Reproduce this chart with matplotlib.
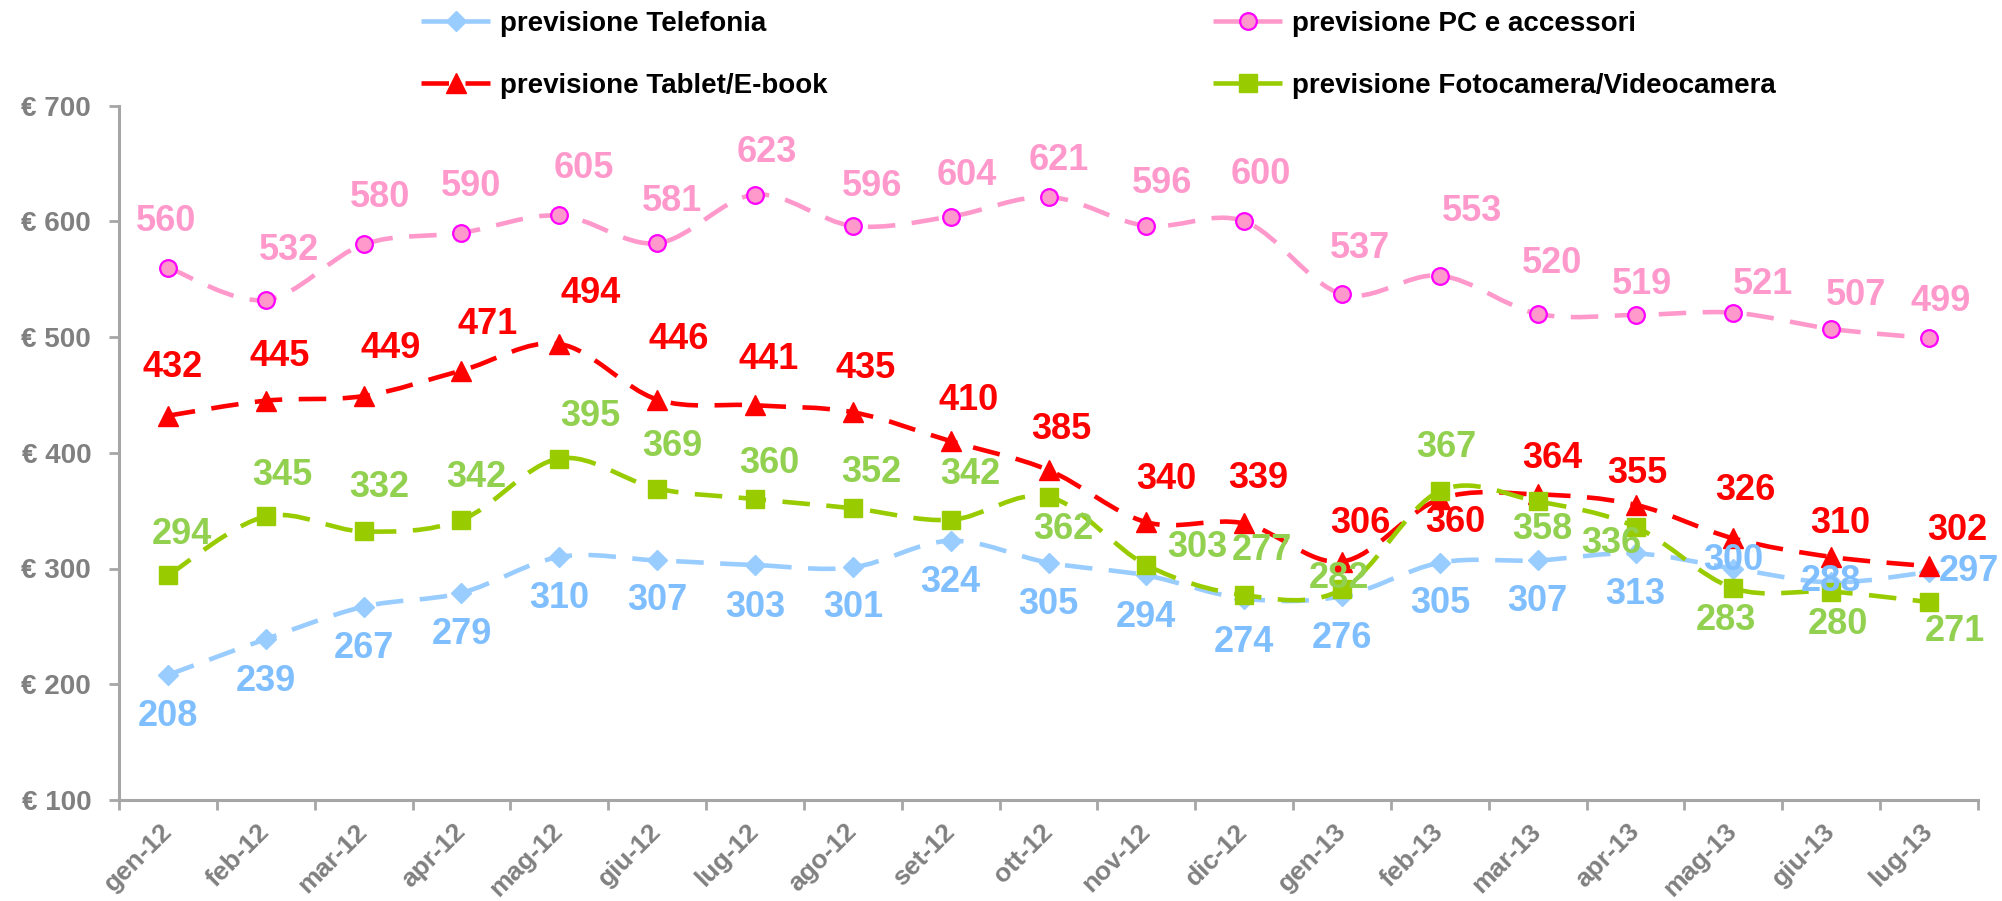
import matplotlib
matplotlib.use("Agg")
import matplotlib.pyplot as plt
from matplotlib.ticker import FixedLocator, FuncFormatter
from matplotlib.path import Path
from matplotlib.patches import PathPatch
from matplotlib.lines import Line2D

plt.rcParams['font.family'] = ['Liberation Sans', 'DejaVu Sans']

# ---------------- data ----------------
months = ["gen-12", "feb-12", "mar-12", "apr-12", "mag-12", "giu-12", "lug-12",
          "ago-12", "set-12", "ott-12", "nov-12", "dic-12", "gen-13", "feb-13",
          "mar-13", "apr-13", "mag-13", "giu-13", "lug-13"]

telefonia = [208, 239, 267, 279, 310, 307, 303, 301, 324, 305, 294, 274, 276,
             305, 307, 313, 300, 288, 297]
pc_accessori = [560, 532, 580, 590, 605, 581, 623, 596, 604, 621, 596, 600, 537,
                553, 520, 519, 521, 507, 499]
tablet_ebook = [432, 445, 449, 471, 494, 446, 441, 435, 410, 385, 340, 339, 306,
                360, 364, 355, 326, 310, 302]
foto_video = [294, 345, 332, 342, 395, 369, 360, 352, 342, 362, 303, 277, 282,
              367, 358, 336, 283, 280, 271]

series_names = ["previsione Telefonia", "previsione PC e accessori",
                "previsione Tablet/E-book", "previsione Fotocamera/Videocamera"]

y_ticks = [100, 200, 300, 400, 500, 600, 700]

# ---------------- label offsets (pixels, dx right, dy down) ----------------
off_tel = [(0, 42)] * 5 + [(0, 40), (0, 42), (0, 40), (0, 42), (0, 42), (0, 42),
                           (0, 44), (0, 42), (0, 41), (0, 41), (0, 41), (0, -8),
                           (0, -1), (40, 0)]
off_pc = [(-2, -46), (23, -49), (16, -47), (10, -46), (25, -47), (15, -42),
          (12, -42), (19, -39), (16, -41), (10, -36), (16, -42), (17, -47),
          (18, -46), (32, -64), (14, -50), (6, -31), (30, -28), (25, -33),
          (12, -37)]
off_tab = [(5, -48), (14, -44), (27, -48), (26, -46), (31, -50), (22, -60),
           (14, -46), (13, -44), (18, -41), (13, -41), (20, -43), (14, -45),
           (18, -38), (15, 23), (15, -36), (2, -31), (12, -48), (9, -33),
           (28, -36)]
off_foto = [(14, -41), (17, -41), (16, -44), (15, -42), (31, -42), (15, -42),
            (14, -36), (19, -36), (20, -45), (15, 33), (51, -18), (18, -45),
            (-3, -11), (6, -43), (5, 28), (-24, 17), (-8, 32), (7, 33),
            (26, 29)]

# ---------------- figure ----------------
W, H, DPI = 2002, 901, 100
fig = plt.figure(figsize=(W / DPI, H / DPI), dpi=DPI)
ax = fig.add_axes([119 / W, 1 - 800 / H, (1978 - 119) / W, (800 - 105.5) / H])

x = list(range(len(months)))
dash = (0, (6.0, 3.6))
lw = 3.3


def smooth_path(xs, ys):
    """Excel-style smoothed line through the data points (cubic Bezier)."""
    pts = list(zip(xs, ys))
    n = len(pts)
    verts = [pts[0]]
    codes = [Path.MOVETO]
    for i in range(n - 1):
        p0 = pts[i - 1] if i > 0 else pts[i]
        p1 = pts[i]
        p2 = pts[i + 1]
        p3 = pts[i + 2] if i + 2 < n else pts[i + 1]
        c1 = (p1[0] + (p2[0] - p0[0]) / 6.0, p1[1] + (p2[1] - p0[1]) / 6.0)
        c2 = (p2[0] - (p3[0] - p1[0]) / 6.0, p2[1] - (p3[1] - p1[1]) / 6.0)
        verts += [c1, c2, p2]
        codes += [Path.CURVE4] * 3
    return Path(verts, codes)


styles = [
    dict(vals=telefonia, color="#99CCFF", marker="D", ms=10, mfc="#99CCFF",
         mec="#99CCFF", mew=1.0, lab_col="#80BFFF", offs=off_tel),
    dict(vals=pc_accessori, color="#FF99CC", marker="o", ms=12, mfc="#FF99CC",
         mec="#FF00FF", mew=1.6, lab_col="#FF99CC", offs=off_pc),
    dict(vals=tablet_ebook, color="#FF0000", marker="^", ms=15, mfc="#FF0000",
         mec="#FF0000", mew=1.0, lab_col="#FF0000", offs=off_tab),
    dict(vals=foto_video, color="#99CC00", marker="s", ms=13.5, mfc="#99CC00",
         mec="#99CC00", mew=1.0, lab_col="#92D050", offs=off_foto),
]

handles = []
for k, st in enumerate(styles):
    z = 3 + 2 * k
    patch = PathPatch(smooth_path(x, st["vals"]), fill=False,
                      edgecolor=st["color"], lw=lw, linestyle=dash,
                      capstyle="butt", zorder=z)
    ax.add_patch(patch)
    ax.plot(x, st["vals"], linestyle="none", marker=st["marker"], ms=st["ms"],
            mfc=st["mfc"], mec=st["mec"], mew=st["mew"], zorder=z + 1)
    handles.append(Line2D([], [], color=st["color"], lw=lw, ls=dash,
                          marker=st["marker"], ms=st["ms"], mfc=st["mfc"],
                          mec=st["mec"], mew=st["mew"], label=series_names[k]))

for st in styles:
    for i, v in enumerate(st["vals"]):
        dx, dy = st["offs"][i]
        ax.annotate(str(v), (i, v), xytext=(dx, -dy), textcoords="offset pixels",
                    ha="center", va="center", fontsize=26, fontweight="bold",
                    color=st["lab_col"], zorder=20)

# ---------------- axes ----------------
ax.set_xlim(-0.5, len(months) - 0.5)
ax.set_ylim(100, 700)
ax.set_yticks(y_ticks)
ax.yaxis.set_major_formatter(FuncFormatter(lambda v, p: "€ %d" % v))
ax.set_xticks(x)
ax.set_xticklabels(months, rotation=45, ha="right", va="center",
                   rotation_mode="anchor")
ax.xaxis.set_minor_locator(FixedLocator([i - 0.5 for i in range(len(months) + 1)]))

axis_gray = "#A6A6A6"
text_gray = "#808080"
for s in ["top", "right"]:
    ax.spines[s].set_visible(False)
for s in ["left", "bottom"]:
    ax.spines[s].set_color(axis_gray)
    ax.spines[s].set_linewidth(2.2)

ax.tick_params(axis="y", which="major", length=7, width=2, color=axis_gray,
               labelsize=20, labelcolor=text_gray, pad=13)
ax.tick_params(axis="x", which="major", length=0, labelsize=19,
               labelcolor=text_gray, pad=20)
ax.tick_params(axis="x", which="minor", length=7, width=2, color=axis_gray)
for t in ax.get_yticklabels() + ax.get_xticklabels():
    t.set_fontweight("bold")

# ---------------- legends ----------------
leg_kw = dict(frameon=False, handlelength=2.5, handletextpad=0.35,
              labelspacing=1.3, borderpad=0, borderaxespad=0,
              prop={"weight": "bold", "size": 20})
leg1 = fig.legend(handles=[handles[0], handles[2]], loc="upper left",
                  bbox_to_anchor=(421 / W, 1 - 11 / H), **leg_kw)
leg2 = fig.legend(handles=[handles[1], handles[3]], loc="upper left",
                  bbox_to_anchor=(1213 / W, 1 - 11 / H), **leg_kw)

fig.savefig("out.png", dpi=DPI)
